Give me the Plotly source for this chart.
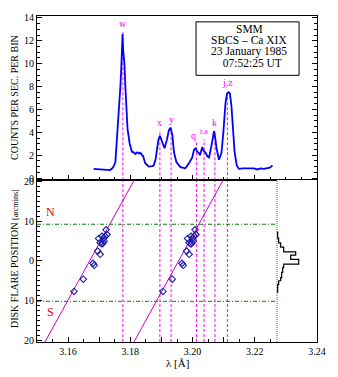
import plotly.graph_objects as go

# ---------------- data ----------------
# spectrum (wavelength in Angstrom, counts per sec per bin)
spec_lam = [3.1682, 3.1703, 3.1723, 3.1735, 3.1742, 3.1746, 3.1752, 3.1755, 3.1760, 3.1765,
            3.1768, 3.1771, 3.1773, 3.1775, 3.1777, 3.1781, 3.1784, 3.1787, 3.1791, 3.1798,
            3.1805, 3.1811, 3.1816, 3.1822, 3.1827, 3.1832, 3.1841, 3.1848, 3.1859, 3.1870,
            3.1875, 3.1881, 3.1886, 3.1890, 3.1895, 3.1902, 3.1910, 3.1918, 3.1924, 3.1929,
            3.1935, 3.1940, 3.1948, 3.1961, 3.1977, 3.1991, 3.1999, 3.2005, 3.2010, 3.2015,
            3.2020, 3.2024, 3.2031, 3.2035, 3.2042, 3.2048, 3.2053, 3.2060, 3.2069, 3.2073,
            3.2077, 3.2085, 3.2093, 3.2099, 3.2103, 3.2106, 3.2111, 3.2116, 3.2120, 3.2125,
            3.2130, 3.2135, 3.2142, 3.2149, 3.2161, 3.2176, 3.2187, 3.2197, 3.2209, 3.2219,
            3.2229, 3.2241, 3.2248, 3.2257]
spec_cts = [0.8, 0.75, 0.75, 0.7, 0.85, 1.0, 1.4, 2.5, 4.3, 6.3,
            8.0, 9.7, 11.8, 12.6, 11.2, 10.0, 8.0, 6.0, 4.3, 3.0,
            2.3, 2.25, 2.1, 2.25, 2.15, 2.2, 1.9, 1.3, 1.0, 1.05,
            1.1, 1.6, 2.5, 3.3, 3.7, 3.1, 2.6, 3.4, 4.2, 4.4,
            3.8, 2.3, 1.4, 0.95, 0.85, 1.4, 1.8, 2.5, 2.6, 2.3,
            2.2, 2.0, 2.7, 2.4, 2.2, 1.9, 1.8, 2.7, 4.1, 3.5,
            2.6, 1.6, 2.2, 4.0, 5.5, 6.6, 7.4, 7.5, 7.4, 6.3,
            4.3, 2.3, 1.1, 0.8, 0.85, 0.85, 0.8, 0.85, 0.75, 0.85,
            0.8, 0.85, 0.9, 1.1]

# line identifications
line_lam = [3.1776, 3.1895, 3.1931, 3.2013, 3.2037, 3.2072, 3.2112]
line_lbl = ["w", "x", "y", "q", "r,a", "k", "j,z"]
line_lbl_lam = [3.1776, 3.1894, 3.1931, 3.2003, 3.2038, 3.2069, 3.2112]
line_lbl_y = [13.5, 4.85, 5.15, 3.7, 4.05, 4.85, 8.35]
line_top = [12.9, 4.2, 4.5, 3.1, 3.4, 4.2, 7.6]

# flare positions vs. measured wavelength
pos_lam = [3.1619, 3.1649, 3.1680, 3.1684, 3.1695, 3.1703, 3.1698, 3.1709, 3.1714, 3.1719,
           3.1725, 3.1712, 3.1716, 3.1722, 3.1703, 3.1709]
pos_y = [-7.7, -4.6, -0.6, -1.1, 2.5, 1.7, 5.7, 6.25, 5.7, 6.25,
         6.7, 4.6, 5.0, 7.9, 4.6, 4.3]
second_shift = 0.0286

# fitted relation lambda = fit_lam0 + fit_slope * position
fit_lam0 = 3.1669
fit_slope = 0.00070
fit_y = [-21.0, 21.0]

# N/S limits
ns_limits = [9.3, -10.2]

# histogram of positions
hist_edges = [-7.9, -6.0, -5.0, -4.2, -2.9, -1.7, -0.8, 0.4, 1.5, 2.3, 3.5, 4.6, 5.8, 7.25]
hist_counts = [1, 2, 4, 5, 6, 7, 22, 14, 19, 7, 4, 2, 1]

x_tickvals = [3.15, 3.16, 3.17, 3.18, 3.19, 3.20, 3.21, 3.22, 3.23, 3.24]
x_ticktext = ["", "3.16", "", "3.18", "", "3.20", "", "3.22", "", "3.24"]
top_yticks = [0, 2, 4, 6, 8, 10, 12, 14]
bot_yticks = [-20, -10, 0, 10, 20]
bot_yticktext = ["20", "10", "0", "10", "20"]

title_lines = ["SMM", "SBCS \u2013 Ca XIX", "23 January 1985", "  07:52:25 UT"]

# ---------------- figure ----------------
SERIF = "Liberation Serif"
MAG = "#ff00ff"

fig = go.Figure()

fig.add_trace(go.Scatter(x=spec_lam, y=spec_cts, mode="lines",
                         line=dict(color="#0000ff", width=1.8), xaxis="x", yaxis="y",
                         showlegend=False, hoverinfo="skip"))

# fit lines
for off in [0.0, second_shift]:
    fx = [fit_lam0 + off + fit_slope * yy for yy in fit_y]
    fig.add_trace(go.Scatter(x=fx, y=fit_y, mode="lines",
                             line=dict(color="#cc00cc", width=1), xaxis="x2", yaxis="y2",
                             showlegend=False, hoverinfo="skip"))

# diamonds
for off in [0.0, second_shift]:
    fig.add_trace(go.Scatter(x=[l + off for l in pos_lam], y=pos_y, mode="markers",
                             marker=dict(symbol="diamond-open", size=5, color="#1c1ca8",
                                         line=dict(width=1.1)),
                             xaxis="x2", yaxis="y2", showlegend=False, hoverinfo="skip"))

# histogram step profile
hx, hy = [0], [hist_edges[0]]
for i, c in enumerate(hist_counts):
    hx += [c, c]
    hy += [hist_edges[i], hist_edges[i + 1]]
hx.append(0)
hy.append(hist_edges[-1])
fig.add_trace(go.Scatter(x=hx, y=hy, mode="lines", line=dict(color="black", width=1.2),
                         xaxis="x3", yaxis="y2", showlegend=False, hoverinfo="skip"))

shapes = []
for lam, top in zip(line_lam, line_top):
    shapes.append(dict(type="line", xref="x", yref="y", x0=lam, x1=lam, y0=-0.2, y1=top,
                       line=dict(color=MAG, width=1, dash="3px,2px"), layer="below"))
    shapes.append(dict(type="line", xref="x2", yref="y2 domain", x0=lam, x1=lam, y0=0, y1=1,
                       line=dict(color=MAG, width=1, dash="3px,2px"), layer="below"))
for yv in ns_limits:
    shapes.append(dict(type="line", xref="x2 domain", yref="y2", x0=0, x1=1, y0=yv, y1=yv,
                       line=dict(color="#008000", width=1, dash="4px,2px,1px,2px"), layer="below"))
shapes.append(dict(type="line", xref="x3", yref="y2 domain", x0=0, x1=0, y0=0, y1=1,
                   line=dict(color="black", width=1.3, dash="1px,1px")))
# title box
shapes.append(dict(type="rect", xref="paper", yref="paper", x0=0.568, x1=0.936, y0=0.818, y1=0.982,
                   line=dict(color="black", width=1), fillcolor="white"))

annotations = []
for lam, lbl, ly in zip(line_lbl_lam, line_lbl, line_lbl_y):
    annotations.append(dict(x=lam, y=ly, xref="x", yref="y", text=lbl, showarrow=False,
                            xanchor="center", yanchor="middle",
                            font=dict(family=SERIF, size=(8 if lbl == "r,a" else 10), color=MAG)))
title_py = [25, 36.3, 48, 59.5]
for t, py in zip(title_lines, title_py):
    annotations.append(dict(x=(249 - 37) / 280, y=(342 - py) / 330, xref="paper", yref="paper",
                            text=t, showarrow=False, xanchor="center", yanchor="middle",
                            font=dict(family=SERIF, size=11.5, color="black")))
annotations.append(dict(x=3.1542, y=12.3, xref="x2", yref="y2", text="N", showarrow=False,
                        xanchor="center", yanchor="middle",
                        font=dict(family=SERIF, size=12, color="#e00000")))
annotations.append(dict(x=3.1542, y=-13.0, xref="x2", yref="y2", text="S", showarrow=False,
                        xanchor="center", yanchor="middle",
                        font=dict(family=SERIF, size=12, color="#e00000")))
annotations.append(dict(x=(15 - 37) / 280, y=(342 - 95) / 330, xref="paper", yref="paper",
                        text="COUNTS PER SEC. PER BIN", xanchor="center", yanchor="middle",
                        textangle=-90, showarrow=False, font=dict(family=SERIF, size=10, color="black")))
annotations.append(dict(x=(14 - 37) / 280, y=(342 - 258) / 330, xref="paper", yref="paper",
                        text="DISK FLARE POSITION <span style='font-size:8px'>[arcmins]</span>",
                        xanchor="center", yanchor="middle",
                        textangle=-90, showarrow=False, font=dict(family=SERIF, size=10, color="black")))
annotations.append(dict(x=(177 - 37) / 280, y=(342 - 363) / 330, xref="paper", yref="paper",
                        text="\u03bb [\u00c5]", xanchor="center", yanchor="middle",
                        showarrow=False, font=dict(family=SERIF, size=11, color="black")))

xcommon = dict(range=[3.15, 3.24], tickvals=x_tickvals, ticktext=x_ticktext, ticks="inside",
               ticklen=5, tickcolor="black", showline=True, linecolor="black", linewidth=1,
               mirror=True, showgrid=False, zeroline=False,
               minor=dict(dtick=0.005, tick0=3.15, ticks="inside", ticklen=3, tickcolor="black"),
               tickfont=dict(family=SERIF, size=10, color="black"))

fig.update_layout(
    width=338, height=377,
    margin=dict(l=37, r=21, t=12, b=35, pad=0),
    paper_bgcolor="white", plot_bgcolor="white",
    xaxis=dict(domain=[0, 1], anchor="y", showticklabels=False, matches="x2", **xcommon),
    xaxis2=dict(domain=[0, 1], anchor="y2", **xcommon),
    xaxis3=dict(domain=[0.856, 1], anchor="y2", range=[0, 40.3], visible=False),
    yaxis=dict(domain=[0.497, 1], anchor="x", range=[-0.17, 14.17], tickvals=top_yticks,
               ticks="inside", ticklen=5, tickcolor="black", showline=True, linecolor="black",
               linewidth=1, mirror="ticks", showgrid=False, zeroline=False,
               minor=dict(dtick=0.5, ticks="inside", ticklen=3, tickcolor="black"),
               tickfont=dict(family=SERIF, size=10, color="black")),
    yaxis2=dict(domain=[0, 0.497], anchor="x2", range=[-20.5, 20.5], tickvals=bot_yticks,
                ticktext=bot_yticktext, ticks="inside", ticklen=5, tickcolor="black",
                showline=True, linecolor="black", linewidth=1, mirror="ticks", showgrid=False,
                zeroline=False,
                minor=dict(dtick=1.25, tick0=0, ticks="inside", ticklen=3, tickcolor="black"),
                tickfont=dict(family=SERIF, size=10, color="black")),
    shapes=shapes, annotations=annotations,
)

fig.write_html("out.html")
